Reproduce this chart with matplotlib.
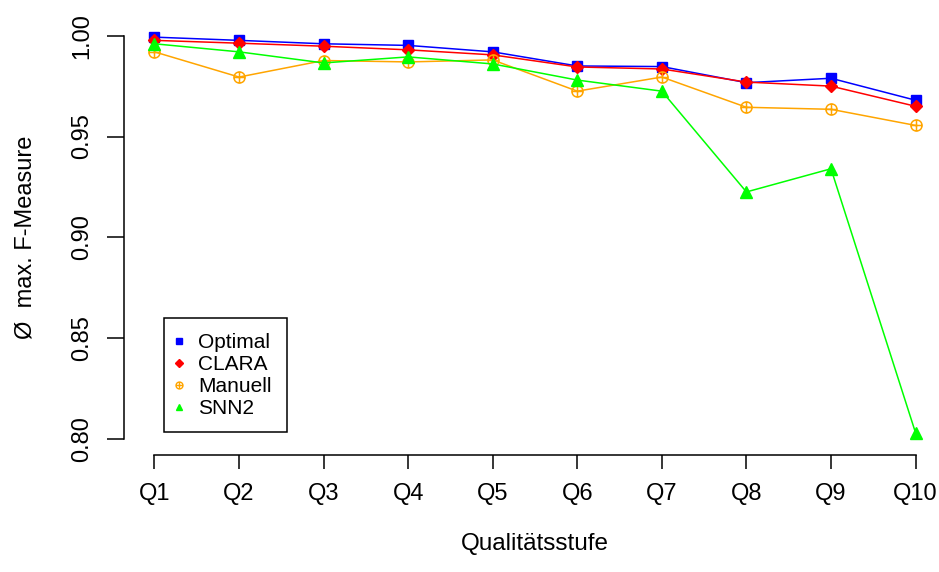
import matplotlib
matplotlib.use('Agg')
import matplotlib.pyplot as plt
from matplotlib.path import Path
from matplotlib.lines import Line2D
from matplotlib.patches import Rectangle

plt.rcParams['font.family'] = ['Liberation Sans', 'DejaVu Sans']

stufen = ['Q1', 'Q2', 'Q3', 'Q4', 'Q5', 'Q6', 'Q7', 'Q8', 'Q9', 'Q10']
optimal = [0.9993, 0.9977, 0.9960, 0.9952, 0.9920, 0.9850, 0.9847, 0.9767, 0.9789, 0.9680]
clara = [0.9977, 0.9963, 0.9948, 0.9930, 0.9905, 0.9845, 0.9835, 0.9770, 0.9750, 0.9650]
manuell = [0.9920, 0.9795, 0.9877, 0.9870, 0.9880, 0.9725, 0.9795, 0.9645, 0.9635, 0.9555]
snn2 = [0.9960, 0.9920, 0.9865, 0.9895, 0.9860, 0.9780, 0.9725, 0.9225, 0.9340, 0.8030]
y_ticks = [0.80, 0.85, 0.90, 0.95, 1.00]

# Kreis mit Kreuz (wie pch=10 in R)
circ = Path.unit_circle()
cross = Path([(-1, 0), (1, 0), (0, -1), (0, 1)],
             [Path.MOVETO, Path.LINETO, Path.MOVETO, Path.LINETO])
circle_plus = Path.make_compound_path(circ, cross)

W, H = 939, 572
fig = plt.figure(figsize=(W / 100, H / 100), dpi=100)
left, right, top, bottom = 124, 946, 19.6, 455
ax = fig.add_axes([left / W, 1 - bottom / H, (right - left) / W, (bottom - top) / H])

x = list(range(1, len(stufen) + 1))
lw = 1.1
ax.plot(x, optimal, color='#0000FF', lw=lw, marker='s', ms=7, label='Optimal')
ax.plot(x, clara, color='#FF0000', lw=lw, marker='D', ms=6, label='CLARA')
ax.plot(x, manuell, color='#FFA500', lw=lw, marker=circle_plus, ms=8,
        mfc='none', mew=1.1, label='Manuell')
ax.plot(x, snn2, color='#00FF00', lw=lw, marker='^', ms=8, label='SNN2')

ax.set_xlim(0.64, 10.36)
ax.set_ylim(0.792, 1.008)
ax.set_xticks(x)
ax.set_xticklabels(stufen)
ax.set_yticks(y_ticks)
ax.set_yticklabels(['%.2f' % v for v in y_ticks], rotation=90, va='center')

for s in ['top', 'right']:
    ax.spines[s].set_visible(False)
ax.spines['left'].set_bounds(0.80, 1.00)
ax.spines['bottom'].set_bounds(1, 10)
for s in ['left', 'bottom']:
    ax.spines[s].set_linewidth(1.1)
ax.tick_params(axis='x', length=10, width=1.1, pad=10, labelsize=17)
ax.tick_params(axis='y', length=12, width=1.1, pad=10, labelsize=17)

ax.set_xlabel('Qualitätsstufe', fontsize=17.5, labelpad=20)
ax.set_ylabel('Ø  max. F-Measure', fontsize=17, labelpad=25)

# Legendenrahmen separat, damit Größe wie im Original
fig.patches.append(Rectangle((164 / W, 1 - 432 / H), 123 / W, 114 / H,
                             transform=fig.transFigure, fill=False,
                             edgecolor='black', lw=1.1))
handles = [
    Line2D([], [], ls='none', color='#0000FF', marker='s', ms=5),
    Line2D([], [], ls='none', color='#FF0000', marker='D', ms=4),
    Line2D([], [], ls='none', color='#FFA500', marker=circle_plus, ms=5, mfc='none'),
    Line2D([], [], ls='none', color='#00FF00', marker='^', ms=5),
]
leg = fig.legend(handles, ['Optimal', 'CLARA', 'Manuell', 'SNN2'],
                 loc='center left', bbox_to_anchor=(174 / W, 1 - 375.5 / H),
                 borderaxespad=0, borderpad=0, fontsize=15, frameon=False,
                 handlelength=0.5, handletextpad=0.67, labelspacing=0.15)

fig.savefig('out.png', dpi=100)
